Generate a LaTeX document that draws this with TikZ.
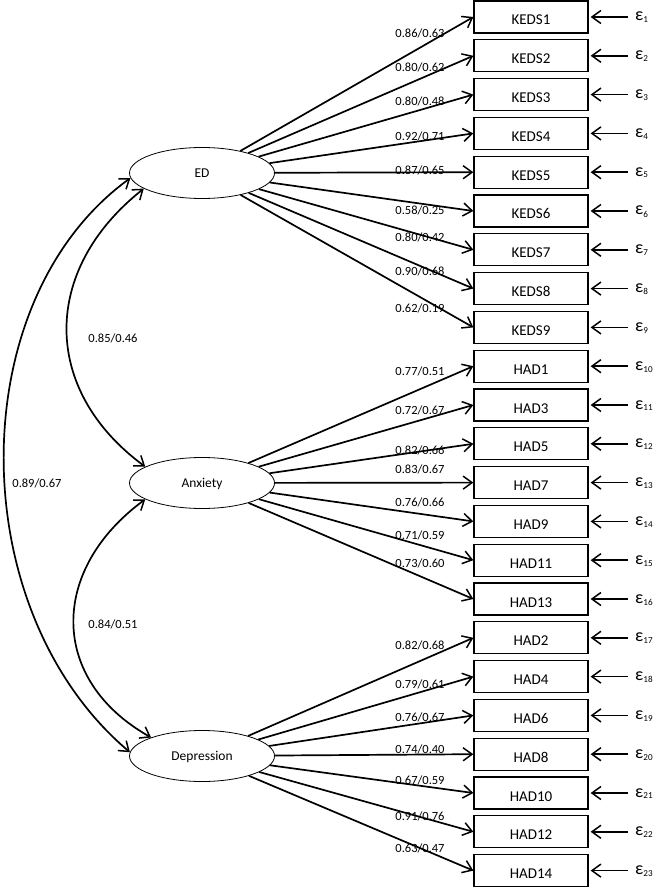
\documentclass[tikz,border=0pt]{standalone}
\usepackage{fontspec}
\setmainfont{Carlito}
\usetikzlibrary{arrows.meta,shapes.geometric}
\begin{document}
\begin{tikzpicture}[x=1pt,y=-1pt,
  tip/.tip={Straight Barb[length=9pt,width=13pt,line width=1.5pt]},
  arr/.style={line width=1.7pt,-tip},
  dblarr/.style={line width=1.7pt,tip-tip},
  latent/.style={ellipse,draw,line width=0.8pt,minimum width=145pt,minimum height=51pt,inner sep=0pt,font=\fontsize{13.5}{15}\selectfont,text height=8.5pt,text depth=0pt},
  obs/.style={rectangle,draw,line width=1.3pt,minimum width=114pt,minimum height=32pt,inner sep=0pt,font=\fontsize{15}{17}\selectfont,text height=16pt,text depth=0pt},
  err/.style={anchor=west,inner sep=0pt,font=\fontsize{18}{20}\selectfont,text height=8pt,text depth=0pt},
  lab/.style={inner sep=0pt,font=\fontsize{12.5}{14}\selectfont}
]
\useasboundingbox (0,0) rectangle (657,890);
\node[latent] (ED) at (202,173) {ED};
\node[latent] (ANX) at (202,483) {Anxiety};
\node[latent] (DEP) at (202,756) {Depression};
\foreach \n [count=\i] in {KEDS1,KEDS2,KEDS3,KEDS4,KEDS5,KEDS6,KEDS7,KEDS8,KEDS9,HAD1,HAD3,HAD5,HAD7,HAD9,HAD11,HAD13,HAD2,HAD4,HAD6,HAD8,HAD10,HAD12,HAD14}{
  \node[obs] (b\i) at (531,{17+(\i-1)*38.8}) {\n};
  \node[err] (e\i) at (635,{17+(\i-1)*38.8}) {ε{\fontsize{13}{15}\selectfont\textsubscript{\i}}};
  \draw[arr,shorten <=7pt,shorten >=2pt] (e\i.west) -- (b\i.east);
}
\foreach \i in {1,...,9} \draw[arr] (ED) -- (b\i.west);
\foreach \i in {10,...,16} \draw[arr] (ANX) -- (b\i.west);
\foreach \i in {17,...,23} \draw[arr] (DEP) -- (b\i.west);
\foreach \a/\b/\y [count=\k] in {0.86/0.63/33,0.80/0.62/67,0.80/0.48/101,0.92/0.71/136,0.87/0.65/170,0.58/0.25/210,0.80/0.42/237,0.90/0.68/271,0.62/0.19/308,
  0.77/0.51/371,0.72/0.67/410,0.82/0.66/450,0.83/0.67/469,0.76/0.66/502,0.71/0.59/535,0.73/0.60/563,
  0.82/0.68/645,0.79/0.61/684,0.76/0.67/717,0.74/0.40/749,0.67/0.59/780,0.91/0.76/816,0.63/0.47/848}
  \node[lab] (l\k) at (420,\y) {\a/\b};
\draw[dblarr] (ED.184) .. controls (-38,300) and (-38,610) .. (DEP.177);
\draw[dblarr] (ED.195) .. controls (41,270) and (41,390) .. (ANX.164);
\draw[dblarr] (ANX.196) .. controls (49,570) and (49,680) .. (DEP.160);
\node[lab] (c1) at (113,338) {0.85/0.46};
\node[lab] (c2) at (113,624) {0.84/0.51};
\node[lab] (c3) at (37,483) {0.89/0.67};
\end{tikzpicture}
\end{document}
